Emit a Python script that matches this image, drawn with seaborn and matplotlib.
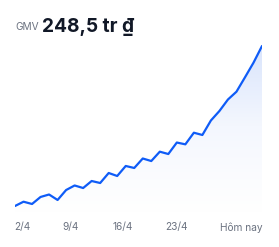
import numpy as np
import pandas as pd
import matplotlib
matplotlib.use("Agg")
import matplotlib.pyplot as plt
import seaborn as sns
from matplotlib.colors import LinearSegmentedColormap

# ---- data (GMV, triệu đồng) ----
days = list(range(1, 31))
gmv = [9.0, 15.4, 12.0, 22.5, 26.2, 18.0, 32.9, 39.7, 35.9, 46.4,
       43.4, 58.4, 53.9, 68.9, 65.9, 80.1, 76.3, 90.3, 86.8, 104.0,
       101.3, 118.7, 115.3, 137.0, 151.2, 168.4, 180.1, 201.6, 223.5, 248.5]
tick_labels = ["2/4", "9/4", "16/4", "23/4", "Hôm nay"]
tick_pos = [1.82, 7.57, 13.68, 20.0, 27.6]
title_label = "GMV"
title_value = "248,5 tr ₫"

sns.set_theme(style="white")
plt.rcParams['font.family'] = ['Inter', 'DejaVu Sans']

W, H = 279, 247
fig = plt.figure(figsize=(W / 100, H / 100), dpi=100)
fig.patch.set_facecolor("white")
ax = fig.add_axes([15 / W, 1 - 212 / H, (262 - 15) / W, (212 - 40) / H])

df = pd.DataFrame({"day": days, "gmv": gmv})
line_color = "#0f5cf7"

ymax = 257.5
ax.set_xlim(days[0], days[-1])
ax.set_ylim(0, ymax)

# gradient fill under the line
cmap = LinearSegmentedColormap.from_list("g", ["#ffffff", "#f4f7fe", "#d7e3fc"])
grad = np.linspace(0, 1, 256).reshape(-1, 1)
im = ax.imshow(grad, aspect="auto", cmap=cmap, origin="lower",
               extent=[days[0], days[-1], 0, ymax], zorder=1)
poly = ax.fill_between(df["day"], df["gmv"], 0, color="none", lw=0)
clip = poly.get_paths()[0]
im.set_clip_path(clip, transform=ax.transData)

sns.lineplot(data=df, x="day", y="gmv", ax=ax, color=line_color,
             linewidth=1.6, zorder=3, solid_capstyle="round")

ax.set_xticks(tick_pos)
ax.set_xticklabels(tick_labels, color="#6b7280", fontsize=7.3)
ax.tick_params(axis="x", length=0, pad=7.5)
ax.set_yticks([])
ax.set_xlabel("")
ax.set_ylabel("")
for s in ax.spines.values():
    s.set_visible(False)
ax.grid(False)

fig.text(15 / W, 1 - 29.5 / H, title_label, color="#6b7280", fontsize=7.3,
         ha="left", va="baseline")
fig.text(42.5 / W, 1 - 31.5 / H, title_value, color="#111827", fontsize=13.8,
         fontweight="bold", ha="left", va="baseline")

fig.savefig("out.png", dpi=100, facecolor="white")
